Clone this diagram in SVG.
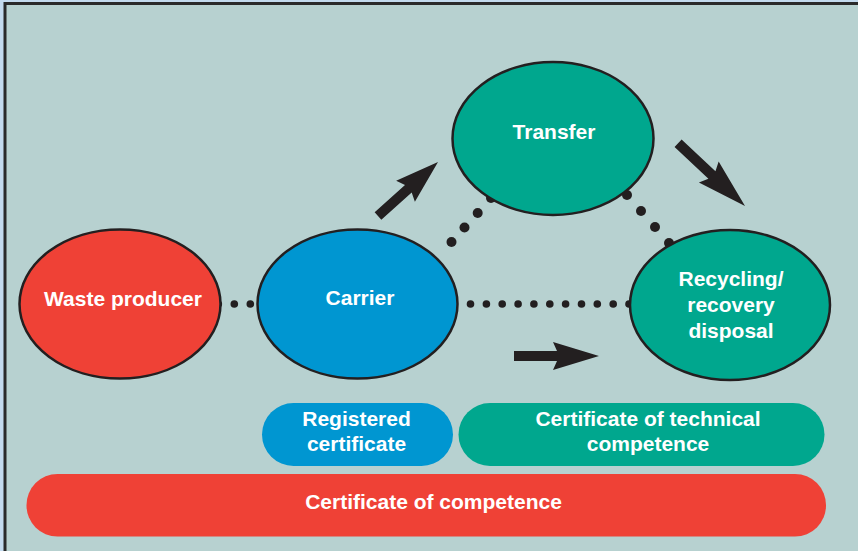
<svg xmlns="http://www.w3.org/2000/svg" width="858" height="551" viewBox="0 0 858 551">
<defs>
<style>
.node{stroke:#231f20;stroke-width:2.5}
.red{fill:#ef4136}
.blue{fill:#0096d1}
.green{fill:#00a78e}
.lbl{font-family:"Liberation Sans",Arial,sans-serif;font-weight:bold;font-size:21px;fill:#ffffff;text-anchor:middle}
.dot{fill:#231f20}
.arrow{fill:#231f20}
</style>
<path id="arr" d="M0,0 L-46,-14 L-42,-5 L-85,-5 L-85,5 L-42,5 L-46,14 Z"/>
</defs>
<rect x="0" y="0" width="858" height="551" fill="#c3daee"/>
<rect x="5" y="3.5" width="870" height="570" fill="#b7d1d0" stroke="#2a2a2a" stroke-width="3"/>

<g id="connectors">
<circle class="dot" cx="218.3" cy="304" r="3.8"/>
<circle class="dot" cx="234.3" cy="304" r="3.8"/>
<circle class="dot" cx="250.3" cy="304" r="3.8"/>
<circle class="dot" cx="470.5" cy="304" r="3.8"/>
<circle class="dot" cx="486.4" cy="304" r="3.8"/>
<circle class="dot" cx="502.2" cy="304" r="3.8"/>
<circle class="dot" cx="518.1" cy="304" r="3.8"/>
<circle class="dot" cx="533.9" cy="304" r="3.8"/>
<circle class="dot" cx="549.8" cy="304" r="3.8"/>
<circle class="dot" cx="565.6" cy="304" r="3.8"/>
<circle class="dot" cx="581.5" cy="304" r="3.8"/>
<circle class="dot" cx="597.3" cy="304" r="3.8"/>
<circle class="dot" cx="613.2" cy="304" r="3.8"/>
<circle class="dot" cx="629" cy="304" r="3.8"/>
<circle class="dot" cx="491" cy="198" r="5"/>
<circle class="dot" cx="477.7" cy="213" r="5"/>
<circle class="dot" cx="464.5" cy="227.5" r="5"/>
<circle class="dot" cx="451.5" cy="242" r="5"/>
<circle class="dot" cx="627" cy="195" r="5"/>
<circle class="dot" cx="641" cy="211" r="5"/>
<circle class="dot" cx="655" cy="227" r="5"/>
<circle class="dot" cx="669" cy="243" r="5"/>
<use href="#arr" class="arrow" transform="translate(438,162) rotate(-42) scale(0.95,1)"/>
<use href="#arr" class="arrow" transform="translate(745,206) rotate(43.2) scale(1.08,1.03)"/>
<use href="#arr" class="arrow" transform="translate(599,356)"/>
</g>

<g id="waste-producer">
<ellipse class="node red" cx="120" cy="304" rx="100.5" ry="74.5"/>
<text class="lbl" x="123" y="305.5">Waste producer</text>
</g>
<g id="carrier">
<ellipse class="node blue" cx="357.5" cy="304" rx="100" ry="74.5"/>
<text class="lbl" x="360" y="305">Carrier</text>
</g>
<g id="transfer">
<ellipse class="node green" cx="553" cy="138.5" rx="100.5" ry="76.5"/>
<text class="lbl" x="554" y="138.5">Transfer</text>
</g>
<g id="recycling">
<ellipse class="node green" cx="730" cy="305" rx="100" ry="75"/>
<text class="lbl" x="731" y="285.5">Recycling/</text>
<text class="lbl" x="731" y="311.5">recovery</text>
<text class="lbl" x="731" y="337.5">disposal</text>
</g>
<g id="registered-certificate">
<rect class="blue" x="262" y="403" width="191" height="63" rx="31.5"/>
<text class="lbl" x="356.5" y="426">Registered</text>
<text class="lbl" x="356.5" y="451">certificate</text>
</g>
<g id="technical-competence">
<rect class="green" x="458.5" y="403" width="366" height="63" rx="31.5"/>
<text class="lbl" x="648" y="426">Certificate of technical</text>
<text class="lbl" x="648" y="451">competence</text>
</g>
<g id="certificate-of-competence">
<rect class="red" x="26.5" y="474" width="799.5" height="62.5" rx="31"/>
<text class="lbl" x="433.5" y="509">Certificate of competence</text>
</g>
</svg>
